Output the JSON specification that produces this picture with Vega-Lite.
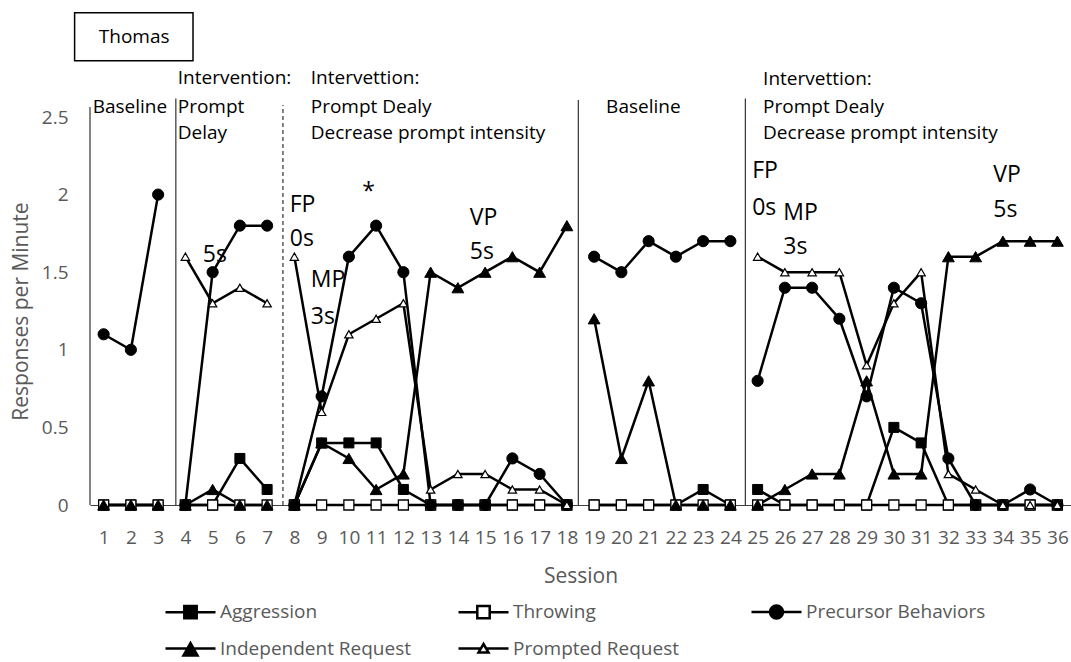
{
  "$schema": "https://vega.github.io/schema/vega-lite/v6.json",
  "width": 981,
  "height": 388,
  "autosize": {"type": "none"},
  "padding": {"left": 90, "top": 117, "right": 0, "bottom": 157},
  "background": "white",
  "config": {"view": {"stroke": null}, "font": "Open Sans"},
  "datasets": {
    "main": [
      {"x": 1, "phase": 1, "Aggression": 0, "Throwing": 0, "Precursor Behaviors": 1.1, "Independent Request": 0, "Prompted Request": null},
      {"x": 2, "phase": 1, "Aggression": 0, "Throwing": 0, "Precursor Behaviors": 1.0, "Independent Request": 0, "Prompted Request": null},
      {"x": 3, "phase": 1, "Aggression": 0, "Throwing": 0, "Precursor Behaviors": 2.0, "Independent Request": 0, "Prompted Request": null},
      {"x": 4, "phase": 2, "Aggression": 0, "Throwing": 0, "Precursor Behaviors": 0, "Independent Request": 0, "Prompted Request": 1.6},
      {"x": 5, "phase": 2, "Aggression": 0, "Throwing": 0, "Precursor Behaviors": 1.5, "Independent Request": 0.1, "Prompted Request": 1.3},
      {"x": 6, "phase": 2, "Aggression": 0.3, "Throwing": 0, "Precursor Behaviors": 1.8, "Independent Request": 0, "Prompted Request": 1.4},
      {"x": 7, "phase": 2, "Aggression": 0.1, "Throwing": 0, "Precursor Behaviors": 1.8, "Independent Request": 0, "Prompted Request": 1.3},
      {"x": 8, "phase": 3, "Aggression": 0, "Throwing": 0, "Precursor Behaviors": 0, "Independent Request": 0, "Prompted Request": 1.6},
      {"x": 9, "phase": 3, "Aggression": 0.4, "Throwing": 0, "Precursor Behaviors": 0.7, "Independent Request": 0.4, "Prompted Request": 0.6},
      {"x": 10, "phase": 3, "Aggression": 0.4, "Throwing": 0, "Precursor Behaviors": 1.6, "Independent Request": 0.3, "Prompted Request": 1.1},
      {"x": 11, "phase": 3, "Aggression": 0.4, "Throwing": 0, "Precursor Behaviors": 1.8, "Independent Request": 0.1, "Prompted Request": 1.2},
      {"x": 12, "phase": 3, "Aggression": 0.1, "Throwing": 0, "Precursor Behaviors": 1.5, "Independent Request": 0.2, "Prompted Request": 1.3},
      {"x": 13, "phase": 3, "Aggression": 0, "Throwing": 0, "Precursor Behaviors": 0, "Independent Request": 1.5, "Prompted Request": 0.1},
      {"x": 14, "phase": 3, "Aggression": 0, "Throwing": 0, "Precursor Behaviors": 0, "Independent Request": 1.4, "Prompted Request": 0.2},
      {"x": 15, "phase": 3, "Aggression": 0, "Throwing": 0, "Precursor Behaviors": 0, "Independent Request": 1.5, "Prompted Request": 0.2},
      {"x": 16, "phase": 3, "Aggression": 0, "Throwing": 0, "Precursor Behaviors": 0.3, "Independent Request": 1.6, "Prompted Request": 0.1},
      {"x": 17, "phase": 3, "Aggression": 0, "Throwing": 0, "Precursor Behaviors": 0.2, "Independent Request": 1.5, "Prompted Request": 0.1},
      {"x": 18, "phase": 3, "Aggression": 0, "Throwing": 0, "Precursor Behaviors": 0, "Independent Request": 1.8, "Prompted Request": 0},
      {"x": 19, "phase": 4, "Aggression": 0, "Throwing": 0, "Precursor Behaviors": 1.6, "Independent Request": 1.2, "Prompted Request": null},
      {"x": 20, "phase": 4, "Aggression": 0, "Throwing": 0, "Precursor Behaviors": 1.5, "Independent Request": 0.3, "Prompted Request": null},
      {"x": 21, "phase": 4, "Aggression": 0, "Throwing": 0, "Precursor Behaviors": 1.7, "Independent Request": 0.8, "Prompted Request": null},
      {"x": 22, "phase": 4, "Aggression": 0, "Throwing": 0, "Precursor Behaviors": 1.6, "Independent Request": 0, "Prompted Request": null},
      {"x": 23, "phase": 4, "Aggression": 0.1, "Throwing": 0, "Precursor Behaviors": 1.7, "Independent Request": 0, "Prompted Request": null},
      {"x": 24, "phase": 4, "Aggression": 0, "Throwing": 0, "Precursor Behaviors": 1.7, "Independent Request": 0, "Prompted Request": null},
      {"x": 25, "phase": 5, "Aggression": 0.1, "Throwing": 0, "Precursor Behaviors": 0.8, "Independent Request": 0, "Prompted Request": 1.6},
      {"x": 26, "phase": 5, "Aggression": 0, "Throwing": 0, "Precursor Behaviors": 1.4, "Independent Request": 0.1, "Prompted Request": 1.5},
      {"x": 27, "phase": 5, "Aggression": 0, "Throwing": 0, "Precursor Behaviors": 1.4, "Independent Request": 0.2, "Prompted Request": 1.5},
      {"x": 28, "phase": 5, "Aggression": 0, "Throwing": 0, "Precursor Behaviors": 1.2, "Independent Request": 0.2, "Prompted Request": 1.5},
      {"x": 29, "phase": 5, "Aggression": 0, "Throwing": 0, "Precursor Behaviors": 0.7, "Independent Request": 0.8, "Prompted Request": 0.9},
      {"x": 30, "phase": 5, "Aggression": 0.5, "Throwing": 0, "Precursor Behaviors": 1.4, "Independent Request": 0.2, "Prompted Request": 1.3},
      {"x": 31, "phase": 5, "Aggression": 0.4, "Throwing": 0, "Precursor Behaviors": 1.3, "Independent Request": 0.2, "Prompted Request": 1.5},
      {"x": 32, "phase": 5, "Aggression": 0, "Throwing": 0, "Precursor Behaviors": 0.3, "Independent Request": 1.6, "Prompted Request": 0.2},
      {"x": 33, "phase": 5, "Aggression": 0, "Throwing": 0, "Precursor Behaviors": 0, "Independent Request": 1.6, "Prompted Request": 0.1},
      {"x": 34, "phase": 5, "Aggression": 0, "Throwing": 0, "Precursor Behaviors": 0, "Independent Request": 1.7, "Prompted Request": 0},
      {"x": 35, "phase": 5, "Aggression": 0, "Throwing": 0, "Precursor Behaviors": 0.1, "Independent Request": 1.7, "Prompted Request": 0},
      {"x": 36, "phase": 5, "Aggression": 0, "Throwing": 0, "Precursor Behaviors": 0, "Independent Request": 1.7, "Prompted Request": 0}
    ],
    "legendrows": [
      {"series": "Aggression"},
      {"series": "Throwing"},
      {"series": "Precursor Behaviors"},
      {"series": "Independent Request"},
      {"series": "Prompted Request"}
    ],
    "phases": [
      {"x": 0.5, "y": 0, "y2": 2.564, "dash": "solid"},
      {"x": 3.65, "y": 0, "y2": 2.62, "dash": "solid"},
      {"x": 7.58, "y": 0, "y2": 2.577, "dash": "dashed"},
      {"x": 18.42, "y": 0, "y2": 2.61, "dash": "solid"},
      {"x": 24.55, "y": 0, "y2": 2.62, "dash": "solid"}
    ],
    "labels": [
      {"x": 0.6, "y": 2.564, "t": "Baseline"},
      {"x": 3.72, "y": 2.751, "t": "Intervention:"},
      {"x": 3.72, "y": 2.564, "t": "Prompt"},
      {"x": 3.72, "y": 2.397, "t": "Delay"},
      {"x": 8.6, "y": 2.751, "t": "Intervettion:"},
      {"x": 8.6, "y": 2.564, "t": "Prompt Dealy"},
      {"x": 8.6, "y": 2.397, "t": "Decrease prompt intensity"},
      {"x": 19.44, "y": 2.564, "t": "Baseline"},
      {"x": 25.2, "y": 2.745, "t": "Intervettion:"},
      {"x": 25.2, "y": 2.564, "t": "Prompt Dealy"},
      {"x": 25.2, "y": 2.397, "t": "Decrease prompt intensity"}
    ],
    "notes": [
      {"x": 4.64, "y": 1.611, "t": "5s"},
      {"x": 7.83, "y": 1.933, "t": "FP"},
      {"x": 7.83, "y": 1.714, "t": "0s"},
      {"x": 8.6, "y": 1.45, "t": "MP"},
      {"x": 8.6, "y": 1.211, "t": "3s"},
      {"x": 10.49, "y": 2.019, "t": "*"},
      {"x": 14.44, "y": 1.849, "t": "VP"},
      {"x": 14.44, "y": 1.63, "t": "5s"},
      {"x": 24.8, "y": 2.152, "t": "FP"},
      {"x": 24.8, "y": 1.914, "t": "0s"},
      {"x": 25.94, "y": 1.881, "t": "MP"},
      {"x": 25.94, "y": 1.662, "t": "3s"},
      {"x": 33.65, "y": 2.126, "t": "VP"},
      {"x": 33.65, "y": 1.901, "t": "5s"}
    ],
    "box": [{"x": -0.065, "x2": 4.28, "y": 2.863, "y2": 3.172}],
    "thomas": [{"x": 2.12, "y": 3.015, "t": "Thomas"}]
  },
  "encoding": {
    "x": {
      "field": "x", "type": "quantitative", "title": "Session",
      "scale": {"domain": [0.5, 36.5], "nice": false, "zero": false},
      "axis": {
        "values": [1,2,3,4,5,6,7,8,9,10,11,12,13,14,15,16,17,18,19,20,21,22,23,24,25,26,27,28,29,30,31,32,33,34,35,36],
        "format": "d", "ticks": false, "tickSize": 0, "grid": false, "labelAngle": 0,
        "labelPadding": 23, "labelFont": "Open Sans", "labelFontSize": 19, "labelColor": "#595959",
        "labelFlush": false, "labelOverlap": false, "labelBound": false,
        "domainColor": "#404040", "domainWidth": 1,
        "titleFont": "Open Sans", "titleFontSize": 21, "titleFontWeight": "normal", "titleColor": "#595959", "titlePadding": 18
      }
    },
    "y": {
      "field": "y", "type": "quantitative", "title": "Responses per Minute",
      "scale": {"domain": [0, 2.5], "nice": false, "zero": false},
      "axis": {
        "values": [0, 0.5, 1, 1.5, 2, 2.5], "format": "~g", "ticks": false, "tickSize": 0, "grid": false, "domain": false,
        "labelPadding": 22, "labelFont": "Open Sans", "labelFontSize": 19, "labelColor": "#595959",
        "labelFlush": false, "labelOverlap": false,
        "titleFont": "Open Sans", "titleFontSize": 21, "titleFontWeight": "normal", "titleColor": "#595959", "titlePadding": 10
      }
    }
  },
  "layer": [
    {
      "data": {"name": "phases"},
      "mark": {"type": "rule", "color": "#333333", "strokeWidth": 1.2},
      "encoding": {
        "y2": {"field": "y2"},
        "strokeDash": {"field": "dash", "type": "nominal", "scale": {"domain": ["solid", "dashed"], "range": [[1, 0], [4, 3]]}, "legend": null}
      }
    },
    {
      "data": {"name": "main"},
      "transform": [
        {"fold": ["Aggression", "Throwing", "Precursor Behaviors", "Independent Request", "Prompted Request"], "as": ["series", "y"]},
        {"filter": "isValid(datum.y)"}
      ],
      "mark": {"type": "line", "color": "black", "strokeWidth": 2.5},
      "encoding": {
        "detail": [{"field": "series", "type": "nominal"}, {"field": "phase", "type": "nominal"}]
      }
    },
    {
      "data": {"name": "legendrows"},
      "mark": {"type": "point", "filled": true, "strokeWidth": 2.5, "opacity": 1},
      "encoding": {
        "shape": {
          "field": "series", "type": "nominal",
          "scale": {
            "domain": ["Aggression", "Throwing", "Precursor Behaviors", "Independent Request", "Prompted Request"],
            "range": [
              "M-2.5,0H-0.62M0.62,0H2.5M-0.62,-0.62H0.62V0.62H-0.62Z",
              "M-2.5,0H-0.62M0.62,0H2.5M-0.62,-0.62H0.62V0.62H-0.62Z",
              "M-2.5,0H-0.65M0.65,0H2.5M-0.65,0A0.65,0.65,0,1,1,0.65,0A0.65,0.65,0,1,1,-0.65,0Z",
              "M-2.5,0H2.5M0,-0.55L0.7,0.7H-0.7Z",
              "M-2.5,0H-0.27M0.27,0H2.5M0,-0.45L0.5,0.4H-0.5Z"
            ]
          },
          "legend": {
            "title": null, "orient": "none", "legendX": 89, "legendY": 483, "direction": "horizontal", "columns": 3,
            "gridAlign": "all", "columnPadding": 41, "rowPadding": 13, "labelOffset": 18, "symbolSize": 400, "padding": 0,
            "symbolStrokeWidth": 2.5, "symbolOpacity": 1,
            "labelFont": "Open Sans", "labelFontSize": 19, "labelColor": "#595959", "labelLimit": 400
          }
        },
        "fill": {
          "field": "series", "type": "nominal",
          "scale": {
            "domain": ["Aggression", "Throwing", "Precursor Behaviors", "Independent Request", "Prompted Request"],
            "range": ["black", "white", "black", "black", "white"]
          },
          "legend": {
            "title": null, "orient": "none", "legendX": 89, "legendY": 483, "direction": "horizontal", "columns": 3,
            "gridAlign": "all", "columnPadding": 41, "rowPadding": 13, "labelOffset": 18, "symbolSize": 400, "padding": 0,
            "symbolStrokeWidth": 2.5, "symbolOpacity": 1,
            "labelFont": "Open Sans", "labelFontSize": 19, "labelColor": "#595959", "labelLimit": 400
          }
        },
        "stroke": {
          "field": "series", "type": "nominal",
          "scale": {
            "domain": ["Aggression", "Throwing", "Precursor Behaviors", "Independent Request", "Prompted Request"],
            "range": ["black", "black", "black", "black", "black"]
          },
          "legend": {
            "title": null, "orient": "none", "legendX": 89, "legendY": 483, "direction": "horizontal", "columns": 3,
            "gridAlign": "all", "columnPadding": 41, "rowPadding": 13, "labelOffset": 18, "symbolSize": 400, "padding": 0,
            "symbolStrokeWidth": 2.5, "symbolOpacity": 1,
            "labelFont": "Open Sans", "labelFontSize": 19, "labelColor": "#595959", "labelLimit": 400
          }
        }
      }
    },
    {
      "data": {"name": "main"},
      "transform": [
        {"fold": ["Aggression", "Throwing", "Precursor Behaviors", "Independent Request", "Prompted Request"], "as": ["series", "y"]},
        {"filter": "isValid(datum.y) && datum.series === 'Aggression'"}
      ],
      "mark": {"type": "point", "shape": "square", "filled": true, "fill": "black", "stroke": "black", "strokeWidth": 1, "size": 100, "opacity": 1}
    },
    {
      "data": {"name": "main"},
      "transform": [
        {"fold": ["Aggression", "Throwing", "Precursor Behaviors", "Independent Request", "Prompted Request"], "as": ["series", "y"]},
        {"filter": "isValid(datum.y) && datum.series === 'Throwing'"}
      ],
      "mark": {"type": "point", "shape": "square", "filled": true, "fill": "white", "stroke": "black", "strokeWidth": 1.3, "size": 100, "opacity": 1}
    },
    {
      "data": {"name": "main"},
      "transform": [
        {"fold": ["Aggression", "Throwing", "Precursor Behaviors", "Independent Request", "Prompted Request"], "as": ["series", "y"]},
        {"filter": "isValid(datum.y) && datum.series === 'Precursor Behaviors'"}
      ],
      "mark": {"type": "point", "shape": "circle", "filled": true, "fill": "black", "stroke": "black", "strokeWidth": 1, "size": 125, "opacity": 1}
    },
    {
      "data": {"name": "main"},
      "transform": [
        {"fold": ["Aggression", "Throwing", "Precursor Behaviors", "Independent Request", "Prompted Request"], "as": ["series", "y"]},
        {"filter": "isValid(datum.y) && datum.series === 'Independent Request'"}
      ],
      "mark": {"type": "point", "shape": "triangle-up", "filled": true, "fill": "black", "stroke": "black", "strokeWidth": 1, "size": 140, "opacity": 1}
    },
    {
      "data": {"name": "main"},
      "transform": [
        {"fold": ["Aggression", "Throwing", "Precursor Behaviors", "Independent Request", "Prompted Request"], "as": ["series", "y"]},
        {"filter": "isValid(datum.y) && datum.series === 'Prompted Request'"}
      ],
      "mark": {"type": "point", "shape": "triangle-up", "filled": true, "fill": "white", "stroke": "black", "strokeWidth": 1.2, "size": 70, "opacity": 1}
    },
    {
      "data": {"name": "labels"},
      "mark": {"type": "text", "font": "Open Sans", "fontSize": 19, "align": "left", "baseline": "middle", "color": "black"},
      "encoding": {"text": {"field": "t"}}
    },
    {
      "data": {"name": "notes"},
      "mark": {"type": "text", "font": "Open Sans", "fontSize": 23, "align": "left", "baseline": "middle", "color": "black"},
      "encoding": {"text": {"field": "t"}}
    },
    {
      "data": {"name": "box"},
      "mark": {"type": "rect", "fill": "white", "stroke": "black", "strokeWidth": 1.5},
      "encoding": {"x2": {"field": "x2"}, "y2": {"field": "y2"}}
    },
    {
      "data": {"name": "thomas"},
      "mark": {"type": "text", "font": "Open Sans", "fontSize": 19, "align": "center", "baseline": "middle", "color": "black"},
      "encoding": {"text": {"field": "t"}}
    }
  ]
}
